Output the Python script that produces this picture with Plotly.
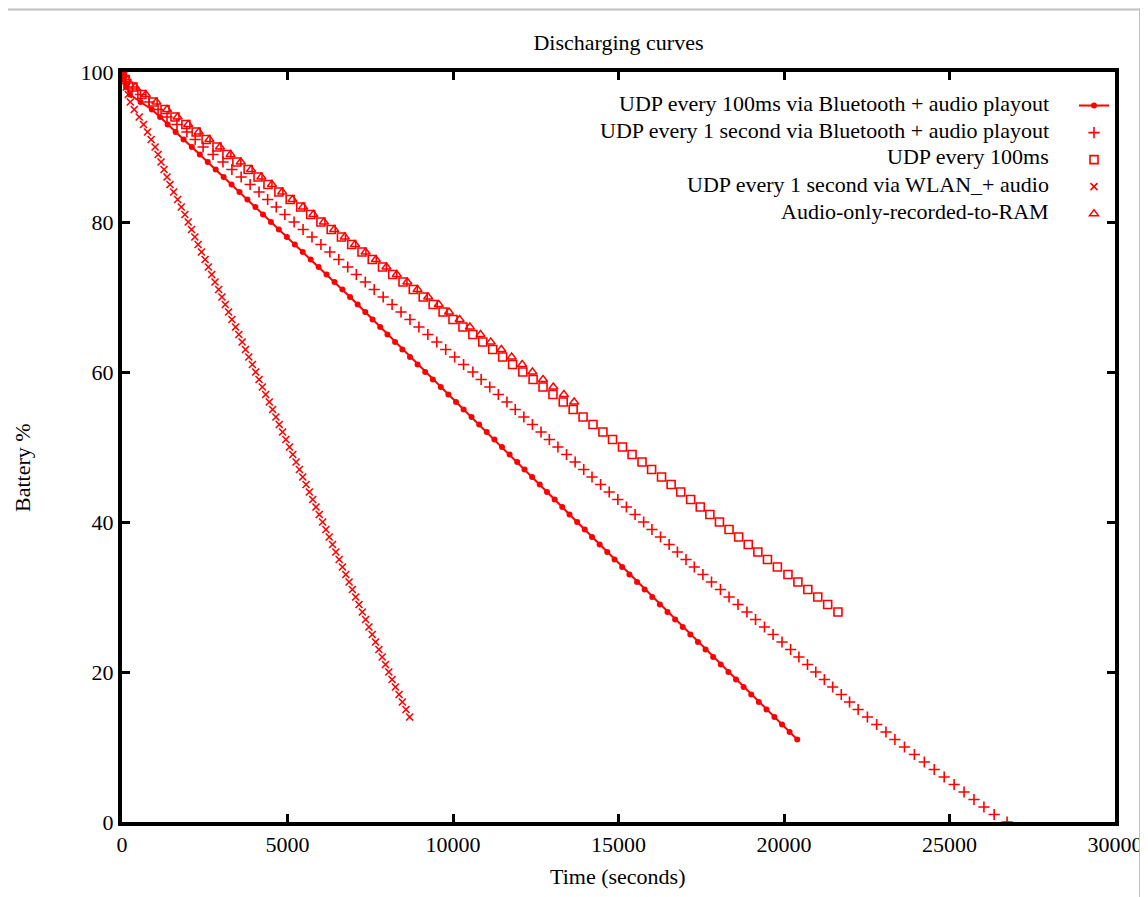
import plotly.graph_objects as go

# ---------------- data (time in seconds for each battery % reading) ----------------
bt100_pct = list(range(100, 10, -1))
bt100_time = [0, 40, 120, 240, 560, 900, 1150, 1380, 1620, 1860,
              2110, 2350, 2590, 2830, 3070, 3310, 3550, 3790, 4030, 4260,
              4500, 4740, 4980, 5220, 5460, 5700, 5940, 6180, 6420, 6660,
              6890, 7120, 7350, 7570, 7800, 8020, 8250, 8470, 8700, 8930,
              9160, 9390, 9630, 9860, 10090, 10320, 10560, 10790, 11020, 11250,
              11480, 11710, 11940, 12160, 12390, 12620, 12840, 13070, 13300, 13520,
              13750, 13980, 14200, 14430, 14660, 14880, 15110, 15330, 15560, 15790,
              16020, 16250, 16480, 16710, 16940, 17170, 17400, 17630, 17860, 18090,
              18320, 18550, 18780, 19010, 19240, 19470, 19710, 19940, 20170, 20400]

bt1s_pct = list(range(100, -1, -1))
bt1s_time = [0, 120, 320, 560, 820, 1090, 1360, 1660, 1960, 2210,
             2450, 2750, 3050, 3320, 3600, 3870, 4140, 4400, 4660, 4920,
             5200, 5470, 5740, 6010, 6280, 6550, 6820, 7080, 7350, 7620,
             7890, 8160, 8430, 8700, 8970, 9240, 9510, 9780, 10050, 10320,
             10600, 10850, 11110, 11370, 11630, 11880, 12140, 12400, 12660, 12910,
             13170, 13430, 13690, 13950, 14200, 14460, 14720, 14980, 15240, 15500,
             15760, 16010, 16270, 16530, 16780, 17040, 17290, 17550, 17810, 18080,
             18340, 18610, 18880, 19140, 19410, 19670, 19940, 20200, 20450, 20710,
             20960, 21220, 21470, 21730, 21980, 22240, 22520, 22800, 23080, 23350,
             23640, 23940, 24240, 24540, 24840, 25140, 25440, 25740, 26040, 26350,
             26740]

udp100_pct = list(range(100, 27, -1))
udp100_time = [0, 100, 330, 600, 940, 1300, 1600, 1930, 2240, 2540,
               2870, 3170, 3470, 3810, 4110, 4410, 4740, 5080, 5400, 5700,
               6010, 6320, 6630, 6940, 7250, 7560, 7870, 8180, 8490, 8800,
               9100, 9400, 9700, 10000, 10300, 10600, 10900, 11200, 11500, 11800,
               12110, 12420, 12720, 13020, 13330, 13630, 13930, 14230, 14530, 14820,
               15120, 15410, 15710, 16000, 16300, 16590, 16880, 17180, 17470, 17760,
               18050, 18340, 18630, 18920, 19210, 19500, 19800, 20120, 20420, 20720,
               21020, 21320, 21630]

wlan_pct = list(range(100, 13, -1))
wlan_time = [0, 60, 130, 190, 250, 370, 520, 650, 770, 880,
             1000, 1090, 1180, 1270, 1360, 1450, 1560, 1680, 1790, 1900,
             2000, 2100, 2200, 2300, 2400, 2510, 2610, 2710, 2810, 2920,
             3020, 3120, 3220, 3320, 3430, 3530, 3630, 3730, 3830, 3940,
             4040, 4140, 4240, 4340, 4450, 4550, 4650, 4750, 4850, 4950,
             5060, 5160, 5260, 5360, 5460, 5560, 5660, 5760, 5860, 5960,
             6060, 6160, 6260, 6360, 6460, 6560, 6660, 6760, 6860, 6960,
             7060, 7160, 7260, 7360, 7460, 7560, 7660, 7760, 7860, 7960,
             8060, 8160, 8260, 8370, 8470, 8580, 8690]

ram_pct = list(range(100, 55, -1))
ram_time = [0, 150, 400, 720, 1040, 1360, 1680, 2000, 2320, 2640,
            2960, 3280, 3590, 3900, 4210, 4530, 4840, 5150, 5470, 5780,
            6100, 6410, 6730, 7040, 7360, 7670, 7990, 8300, 8620, 8930,
            9250, 9570, 9880, 10200, 10510, 10830, 11140, 11460, 11770, 12090,
            12400, 12720, 13030, 13350, 13660]

names = ["UDP every 100ms via Bluetooth + audio playout",
         "UDP every 1 second via Bluetooth + audio playout",
         "UDP every 100ms",
         "UDP every 1 second via WLAN_+ audio",
         "Audio-only-recorded-to-RAM"]

x_ticks = [0, 5000, 10000, 15000, 20000, 25000, 30000]
y_ticks = [0, 20, 40, 60, 80, 100]

RED = "#ff0000"
FONT = "Liberation Serif"

# page places the figure 8px from the top-left corner; plot area in page pixels:
PL, PR, PT, PB = 122, 1115, 72, 822
PW, PH = PR - PL, PB - PT


def px_x(x):
    return (x - PL) / PW


def px_y(y):
    return (PB - y) / PH


# ---------------- figure ----------------
fig = go.Figure()

styles = [
    dict(mode="lines+markers", line=dict(color=RED, width=2),
         marker=dict(symbol="circle", size=6, color=RED)),
    dict(mode="markers",
         marker=dict(symbol="cross-thin-open", size=8, color=RED, line=dict(color=RED, width=1.6))),
    dict(mode="markers",
         marker=dict(symbol="square-open", size=8, color=RED, line=dict(color=RED, width=1.6))),
    dict(mode="markers",
         marker=dict(symbol="x-thin-open", size=7, color=RED, line=dict(color=RED, width=1.6))),
    dict(mode="markers",
         marker=dict(symbol="triangle-up-open", size=8, color=RED, line=dict(color=RED, width=1.4))),
]
series = [(bt100_time, bt100_pct), (bt1s_time, bt1s_pct), (udp100_time, udp100_pct),
          (wlan_time, wlan_pct), (ram_time, ram_pct)]

for (xs, ys), nm, st in zip(series, names, styles):
    fig.add_trace(go.Scatter(x=xs, y=ys, name=nm, showlegend=False, **st))

# legend symbols only (text drawn right-aligned as annotations, like gnuplot)
for nm, st in zip(names, styles):
    fig.add_trace(go.Scatter(x=[None], y=[None], name=" ", showlegend=True,
                             legendgroup=nm, hoverinfo="skip", **st))

legend_text_y = [103, 130, 157, 185, 211]
for nm, ypx in zip(names, legend_text_y):
    fig.add_annotation(text=nm, xref="paper", yref="paper",
                       x=px_x(1051), y=px_y(ypx),
                       xanchor="right", yanchor="middle", showarrow=False,
                       font=dict(family=FONT, size=22, color="black"))

# axis titles as annotations for exact placement
fig.add_annotation(text="Time (seconds)", xref="paper", yref="paper",
                   x=px_x(617), y=px_y(877), xanchor="center", yanchor="middle",
                   showarrow=False, font=dict(family=FONT, size=22, color="black"))
fig.add_annotation(text="Battery %", xref="paper", yref="paper", textangle=-90,
                   x=px_x(22), y=px_y(468), xanchor="center", yanchor="middle",
                   showarrow=False, font=dict(family=FONT, size=22, color="black"))

axis_common = dict(showline=True, linecolor="black", linewidth=4, mirror="ticks",
                   ticks="inside", ticklen=8, tickwidth=3, tickcolor="black",
                   showgrid=False, zeroline=False,
                   tickfont=dict(family=FONT, size=22, color="black"))

fig.update_xaxes(range=[0, 30000], tickvals=x_ticks, ticktext=[str(v) for v in x_ticks],
                 **axis_common)
fig.update_yaxes(range=[0, 100], tickvals=y_ticks, ticktext=[str(v) for v in y_ticks],
                 **axis_common)

W, H = 1140, 889
fig.update_layout(
    width=W, height=H,
    margin=dict(l=PL - 8, r=W + 8 - PR, t=PT - 8, b=H + 8 - PB, autoexpand=False),
    paper_bgcolor="white", plot_bgcolor="white",
    title=dict(text="Discharging curves", x=0.5, xref="paper", xanchor="center",
               y=1 - (42 - 8) / H, yanchor="middle",
               font=dict(family=FONT, size=22, color="black")),
    legend=dict(x=px_x(1074), y=px_y(87), xanchor="left", yanchor="top",
                bgcolor="rgba(0,0,0,0)", borderwidth=0, tracegroupgap=0,
                font=dict(family=FONT, size=18.5), itemwidth=30),
    showlegend=True,
)

# light grey frame of the original picture (top and right edges)
fig.add_shape(type="line", xref="paper", yref="paper",
              x0=px_x(0), x1=px_x(1140), y0=px_y(9.5), y1=px_y(9.5),
              line=dict(color="#c0c0c0", width=2))
fig.add_shape(type="line", xref="paper", yref="paper",
              x0=px_x(1140), x1=px_x(1140), y0=px_y(9.5), y1=px_y(897),
              line=dict(color="#c0c0c0", width=2))

fig.write_html("out.html")
